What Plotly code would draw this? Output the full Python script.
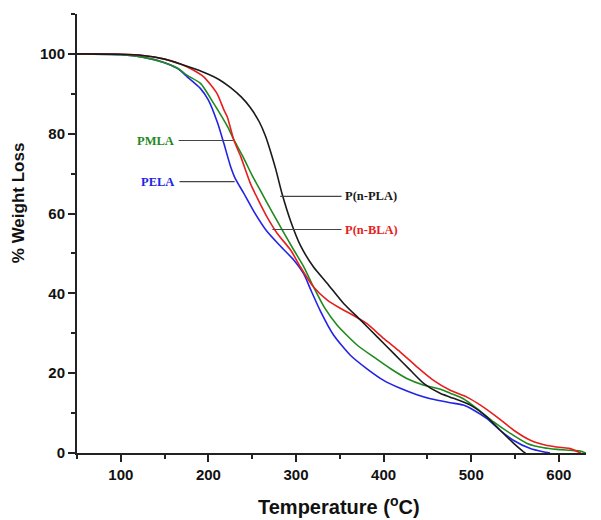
import plotly.graph_objects as go

# ---- data ----
pela_x = [50, 100, 125, 150, 165, 176, 191, 200, 210.6, 217.6, 225, 231, 240.6, 252, 267, 282.4, 297.6, 309, 316.6, 328, 343, 362, 381, 400, 419, 438, 453.5, 476, 491, 503, 518, 533, 548, 567.5, 582, 590]
pela_y = [100, 99.8, 99.2, 97.8, 96.3, 94.2, 91.3, 88.4, 82.6, 77.6, 72.0, 68.6, 65, 60.5, 55.5, 51.8, 48.3, 44.8, 41.0, 35.5, 29.5, 24.5, 21.1, 18.2, 16.2, 14.6, 13.6, 12.6, 12.0, 10.7, 8.6, 5.7, 3.2, 1.1, 0.3, 0]

pmla_x = [50, 100, 125, 150, 165, 176, 191, 206, 222, 229, 240, 250, 260, 273, 286, 297.6, 309, 320, 332, 347, 370, 389, 408, 427, 446, 465, 476, 491, 506.7, 525.6, 544.7, 563.8, 582.7, 598, 613, 624, 631]
pmla_y = [100, 99.8, 99.2, 97.8, 96.4, 94.6, 92.6, 87.6, 81.7, 78.5, 74.0, 69.5, 65.5, 60.3, 55.2, 50.8, 46.6, 41.6, 36.6, 32.0, 27.0, 24.0, 21.1, 18.6, 17.0, 16.0, 15.0, 13.6, 11.1, 7.8, 4.9, 2.4, 1.3, 0.9, 0.7, 0.5, 0]

pnbla_x = [50, 100, 125, 150, 168, 180, 195, 210, 217.8, 221.6, 229, 237, 248, 256, 267, 278.6, 294, 305, 320, 335.7, 351, 362, 381, 400, 419, 438, 457, 476, 495, 510.5, 529.5, 548.5, 567.5, 586.6, 605.5, 613, 620.7, 625]
pnbla_y = [100, 99.9, 99.6, 98.7, 97.5, 96.3, 94.2, 90.0, 85.9, 84.2, 78.4, 74.2, 67.5, 63.8, 59.1, 55, 50.8, 46.6, 41.6, 38.3, 36.2, 34.9, 32.4, 28.7, 25.3, 21.6, 18.2, 15.7, 14.0, 12.0, 9.0, 5.7, 3.2, 1.9, 1.3, 1.1, 0.4, 0]

pnpla_x = [50, 100, 125, 150, 168, 185, 200, 212, 225, 238, 248, 258, 265, 271, 277, 284, 294, 305, 320, 335.7, 354.6, 373.7, 392.7, 411.7, 430.7, 446, 465, 476, 499, 518, 533, 548.5, 559.7, 562]
pnpla_y = [100, 99.9, 99.6, 98.7, 97.5, 96.2, 94.9, 93.6, 91.6, 89.1, 86.5, 83.0, 79.5, 75.5, 71.0, 65.0, 58.0, 52.0, 46.6, 42.5, 37.4, 33.3, 29.1, 24.9, 20.7, 17.4, 14.9, 14.0, 12.0, 9.0, 5.7, 2.4, 0.3, 0]

series_names = ["PELA", "PMLA", "P(n-BLA)", "P(n-PLA)"]
series_colors = ["#2323e6", "#1f8a1f", "#e61e1e", "#1a1a1a"]

# label positions: (text, text x, text y, leader start x, leader end x, anchor, colour)
labels = [
    ("PMLA", 163, 78.3, 166, 228, "right", "#1f8a1f"),
    ("PELA", 163, 68.0, 167, 230, "right", "#2323e6"),
    ("P(n-PLA)", 354, 64.3, 282, 352, "left", "#1a1a1a"),
    ("P(n-BLA)", 354, 56.0, 273, 352, "left", "#e61e1e"),
]

x_ticks = [100, 200, 300, 400, 500, 600]
y_ticks = [0, 20, 40, 60, 80, 100]

fig = go.Figure()
for xs, ys, name, col in zip([pela_x, pmla_x, pnbla_x, pnpla_x],
                             [pela_y, pmla_y, pnbla_y, pnpla_y],
                             series_names, series_colors):
    fig.add_trace(go.Scatter(x=xs, y=ys, mode="lines", name=name,
                             line=dict(color=col, width=1.6, shape="spline", smoothing=0.6)))

for text, tx, ty, lx0, lx1, anchor, col in labels:
    fig.add_shape(type="line", x0=lx0, x1=lx1, y0=ty, y1=ty, xref="x", yref="y",
                  line=dict(color="#444444", width=1.2))
    fig.add_annotation(x=tx, y=ty, text="<b>%s</b>" % text, showarrow=False,
                       xanchor=anchor, yanchor="middle", xref="x", yref="y",
                       font=dict(family="Liberation Serif", size=12.5, color=col))

# axis titles
fig.add_annotation(x=0.514, y=0, xref="paper", yref="paper", yshift=-52,
                   text="<b>Temperature (<sup>o</sup>C)</b>", showarrow=False,
                   xanchor="center", yanchor="middle",
                   font=dict(family="Liberation Sans", size=20, color="#111111"))
fig.add_annotation(x=0, y=0.569, xref="paper", yref="paper", xshift=-59,
                   text="<b>% Weight Loss</b>", showarrow=False, textangle=-90,
                   xanchor="center", yanchor="middle",
                   font=dict(family="Liberation Sans", size=17, color="#111111"))

axis_common = dict(showline=True, linecolor="#222222", linewidth=2, ticks="outside",
                   ticklen=7, tickwidth=1.5, tickcolor="#222222", showgrid=False,
                   zeroline=False, mirror=False, automargin=False,
                   tickfont=dict(family="Liberation Sans", size=15, color="#111111"))

# the page places the figure 8px from the top-left corner; margins compensate
fig.update_layout(
    width=601, height=520,
    margin=dict(l=69, r=23, t=6, b=75),
    paper_bgcolor="white", plot_bgcolor="white",
    showlegend=False,
    xaxis=dict(range=[50, 631], tickvals=x_ticks, ticktext=["<b>%d</b>" % v for v in x_ticks],
               minor=dict(ticks="outside", ticklen=4, tickwidth=1.5, tickcolor="#222222", dtick=50, tick0=50),
               **axis_common),
    yaxis=dict(range=[0, 110], tickvals=y_ticks, ticktext=["<b>%d</b>" % v for v in y_ticks],
               minor=dict(ticks="outside", ticklen=4, tickwidth=1.5, tickcolor="#222222", dtick=10, tick0=0),
               **axis_common),
)

fig.write_html("out.html")
